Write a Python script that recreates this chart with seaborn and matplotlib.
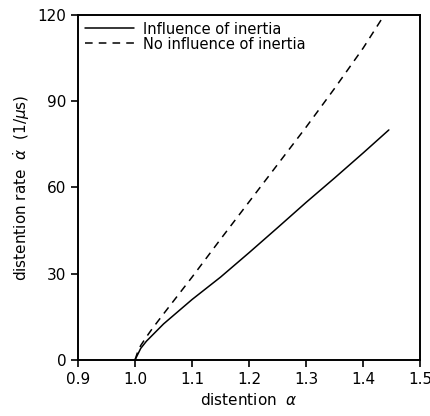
import pandas as pd
import seaborn as sns
import matplotlib.pyplot as plt

# Data
alpha_inertia = [1.0, 1.005, 1.01, 1.02, 1.03, 1.05, 1.1, 1.15, 1.2, 1.25, 1.3, 1.35, 1.4, 1.445]
rate_inertia = [0, 2, 4, 6.5, 8.5, 12.5, 21, 28.8, 37.3, 46, 54.8, 63.3, 72, 80]

alpha_no_inertia = [1.0, 1.005, 1.01, 1.02, 1.03, 1.05, 1.1, 1.15, 1.2, 1.25, 1.3, 1.35, 1.4, 1.437]
rate_no_inertia = [0, 3, 5, 8, 10.8, 16, 28.8, 42, 55, 68, 81, 94.5, 108.5, 120]

labels = ["Influence of inertia", "No influence of inertia"]

df = pd.concat([
    pd.DataFrame({"alpha": alpha_inertia, "rate": rate_inertia, "case": labels[0]}),
    pd.DataFrame({"alpha": alpha_no_inertia, "rate": rate_no_inertia, "case": labels[1]}),
])

sns.set_style("ticks")
plt.rcParams["font.family"] = ["DejaVu Sans"]
plt.rcParams["text.color"] = "black"
plt.rcParams["axes.labelcolor"] = "black"

fig = plt.figure(figsize=(4.31, 4.16), dpi=100)
ax = fig.add_axes([0.181, 0.135, 0.794, 0.829])

sns.lineplot(data=df, x="alpha", y="rate", style="case", style_order=labels,
             dashes={labels[0]: "", labels[1]: (5, 4)},
             color="black", linewidth=1.1, ax=ax, sort=False)

ax.set_xlim(0.9, 1.5)
ax.set_ylim(0, 120)
ax.set_xticks([0.9, 1.0, 1.1, 1.2, 1.3, 1.4, 1.5])
ax.set_xticklabels(["0.9", "1.0", "1.1", "1.2", "1.3", "1.4", "1.5"])
ax.set_yticks([0, 30, 60, 90, 120])
ax.tick_params(direction="out", length=5, width=1.2, labelsize=11, colors="black")
for s in ax.spines.values():
    s.set_linewidth(1.4)
    s.set_color("black")

ax.set_xlabel(r"distention  $\alpha$", fontsize=11)
ax.set_ylabel(r"distention rate  $\dot{\alpha}$  (1/$\mu$s)", fontsize=11)

leg = ax.legend(loc="upper left", frameon=False, fontsize=10.5, handlelength=3.4,
                borderaxespad=0.25, borderpad=0.2, labelspacing=0.0, handletextpad=0.6)
for line in leg.get_lines():
    line.set_linewidth(1.1)
for t in leg.get_texts():
    t.set_color("black")

fig.savefig("out.png", dpi=100)
